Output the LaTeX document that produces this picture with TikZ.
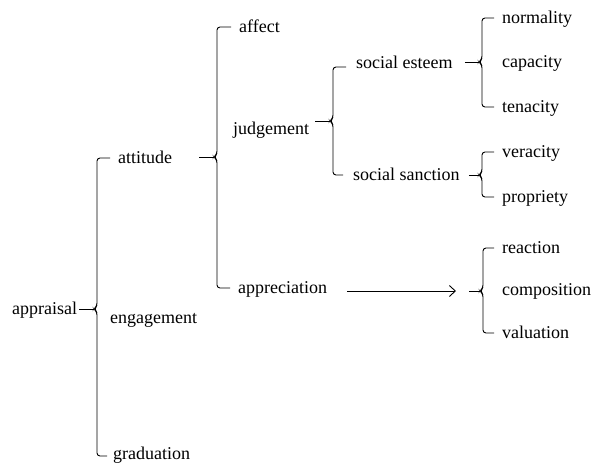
\documentclass[tikz,border=0pt]{standalone}
\usepackage{fontspec}
\setmainfont{Liberation Serif}
\usetikzlibrary{arrows.meta}

\begin{document}
\begin{tikzpicture}[x=1pt, y=-1pt, >={Straight Barb[length=6pt,width=11pt]},
   item/.style={anchor=base west, inner sep=0pt, text height=10pt, text depth=0pt,
      font=\fontsize{18}{20}\selectfont},
   link/.style={line width=0.9pt},
   brace/.style={line width=0.9pt, rounded corners=3pt}]
   \useasboundingbox (0,0) rectangle (594,464);
   % level 0 and 1
   \node (appraisal) at (12,314) [item] {appraisal};
   \node (attitude) at (118,163) [item] {attitude};
   \node (engagement) at (110,323) [item] {engagement};
   \node (graduation) at (113,459) [item] {graduation};
   % level 2
   \node (affect) at (239,32) [item] {affect};
   \node (judgement) at (233,134) [item] {judgement};
   \node (appreciation) at (238,293) [item] {appreciation};
   % level 3
   \node (socest) at (356,68) [item] {social esteem};
   \node (socsanc) at (353,180) [item] {social sanction};
   % leaves
   \node (normality) at (502,23) [item] {normality};
   \node (capacity) at (502,67) [item] {capacity};
   \node (tenacity) at (502,112) [item] {tenacity};
   \node (veracity) at (502,157) [item] {veracity};
   \node (propriety) at (502,202) [item] {propriety};
   \node (reaction) at (502,253) [item] {reaction};
   \node (composition) at (502,295) [item] {composition};
   \node (valuation) at (502,338) [item] {valuation};
   % brace tips
   \coordinate (tipA) at (94,309);
   \coordinate (tipB) at (214,157);
   \coordinate (tipC) at (330,121);
   \coordinate (tipD) at (479,62);
   \coordinate (tipE) at (479,175);
   \coordinate (tipF) at (480,291);
   % connectors
   \draw[link] ([xshift=2pt]appraisal.east |- tipA) -- (tipA);
   \draw[link] ([xshift=27pt]attitude.east |- tipB) -- (tipB);
   \draw[link] ([xshift=6pt]judgement.east |- tipC) -- (tipC);
   \draw[link] ([xshift=12pt]socest.east |- tipD) -- (tipD);
   \draw[link] ([xshift=9pt]socsanc.east |- tipE) -- (tipE);
   \draw[link, ->] ([xshift=20pt]appreciation.east |- tipF) -- ([xshift=-24pt]tipF);
   \draw[link] ([xshift=-11pt]tipF) -- (tipF);
   % braces
   \draw[brace] ([xshift=-8pt]attitude.west) -| ([xshift=3pt,yshift=3pt]tipA) -- (tipA)
      -- ([xshift=3pt,yshift=-3pt]tipA) |- ([xshift=-6pt,yshift=-2pt]graduation.west);
   \draw[brace] ([xshift=-8pt]affect.west) -| ([xshift=3pt,yshift=3pt]tipB) -- (tipB)
      -- ([xshift=3pt,yshift=-3pt]tipB) |- ([xshift=-8pt]appreciation.west);
   \draw[brace] ([xshift=-10pt,yshift=-4pt]socest.west) -| ([xshift=3pt,yshift=3pt]tipC) -- (tipC)
      -- ([xshift=3pt,yshift=-3pt]tipC) |- ([xshift=-10pt]socsanc.west);
   \draw[brace] ([xshift=-8pt]normality.west) -| ([xshift=3pt,yshift=3pt]tipD) -- (tipD)
      -- ([xshift=3pt,yshift=-3pt]tipD) |- ([xshift=-8pt]tenacity.west);
   \draw[brace] ([xshift=-8pt]veracity.west) -| ([xshift=3pt,yshift=3pt]tipE) -- (tipE)
      -- ([xshift=3pt,yshift=-3pt]tipE) |- ([xshift=-8pt]propriety.west);
   \draw[brace] ([xshift=-8pt]reaction.west) -| ([xshift=3pt,yshift=3pt]tipF) -- (tipF)
      -- ([xshift=3pt,yshift=-3pt]tipF) |- ([xshift=-8pt]valuation.west);
\end{tikzpicture}
\end{document}
